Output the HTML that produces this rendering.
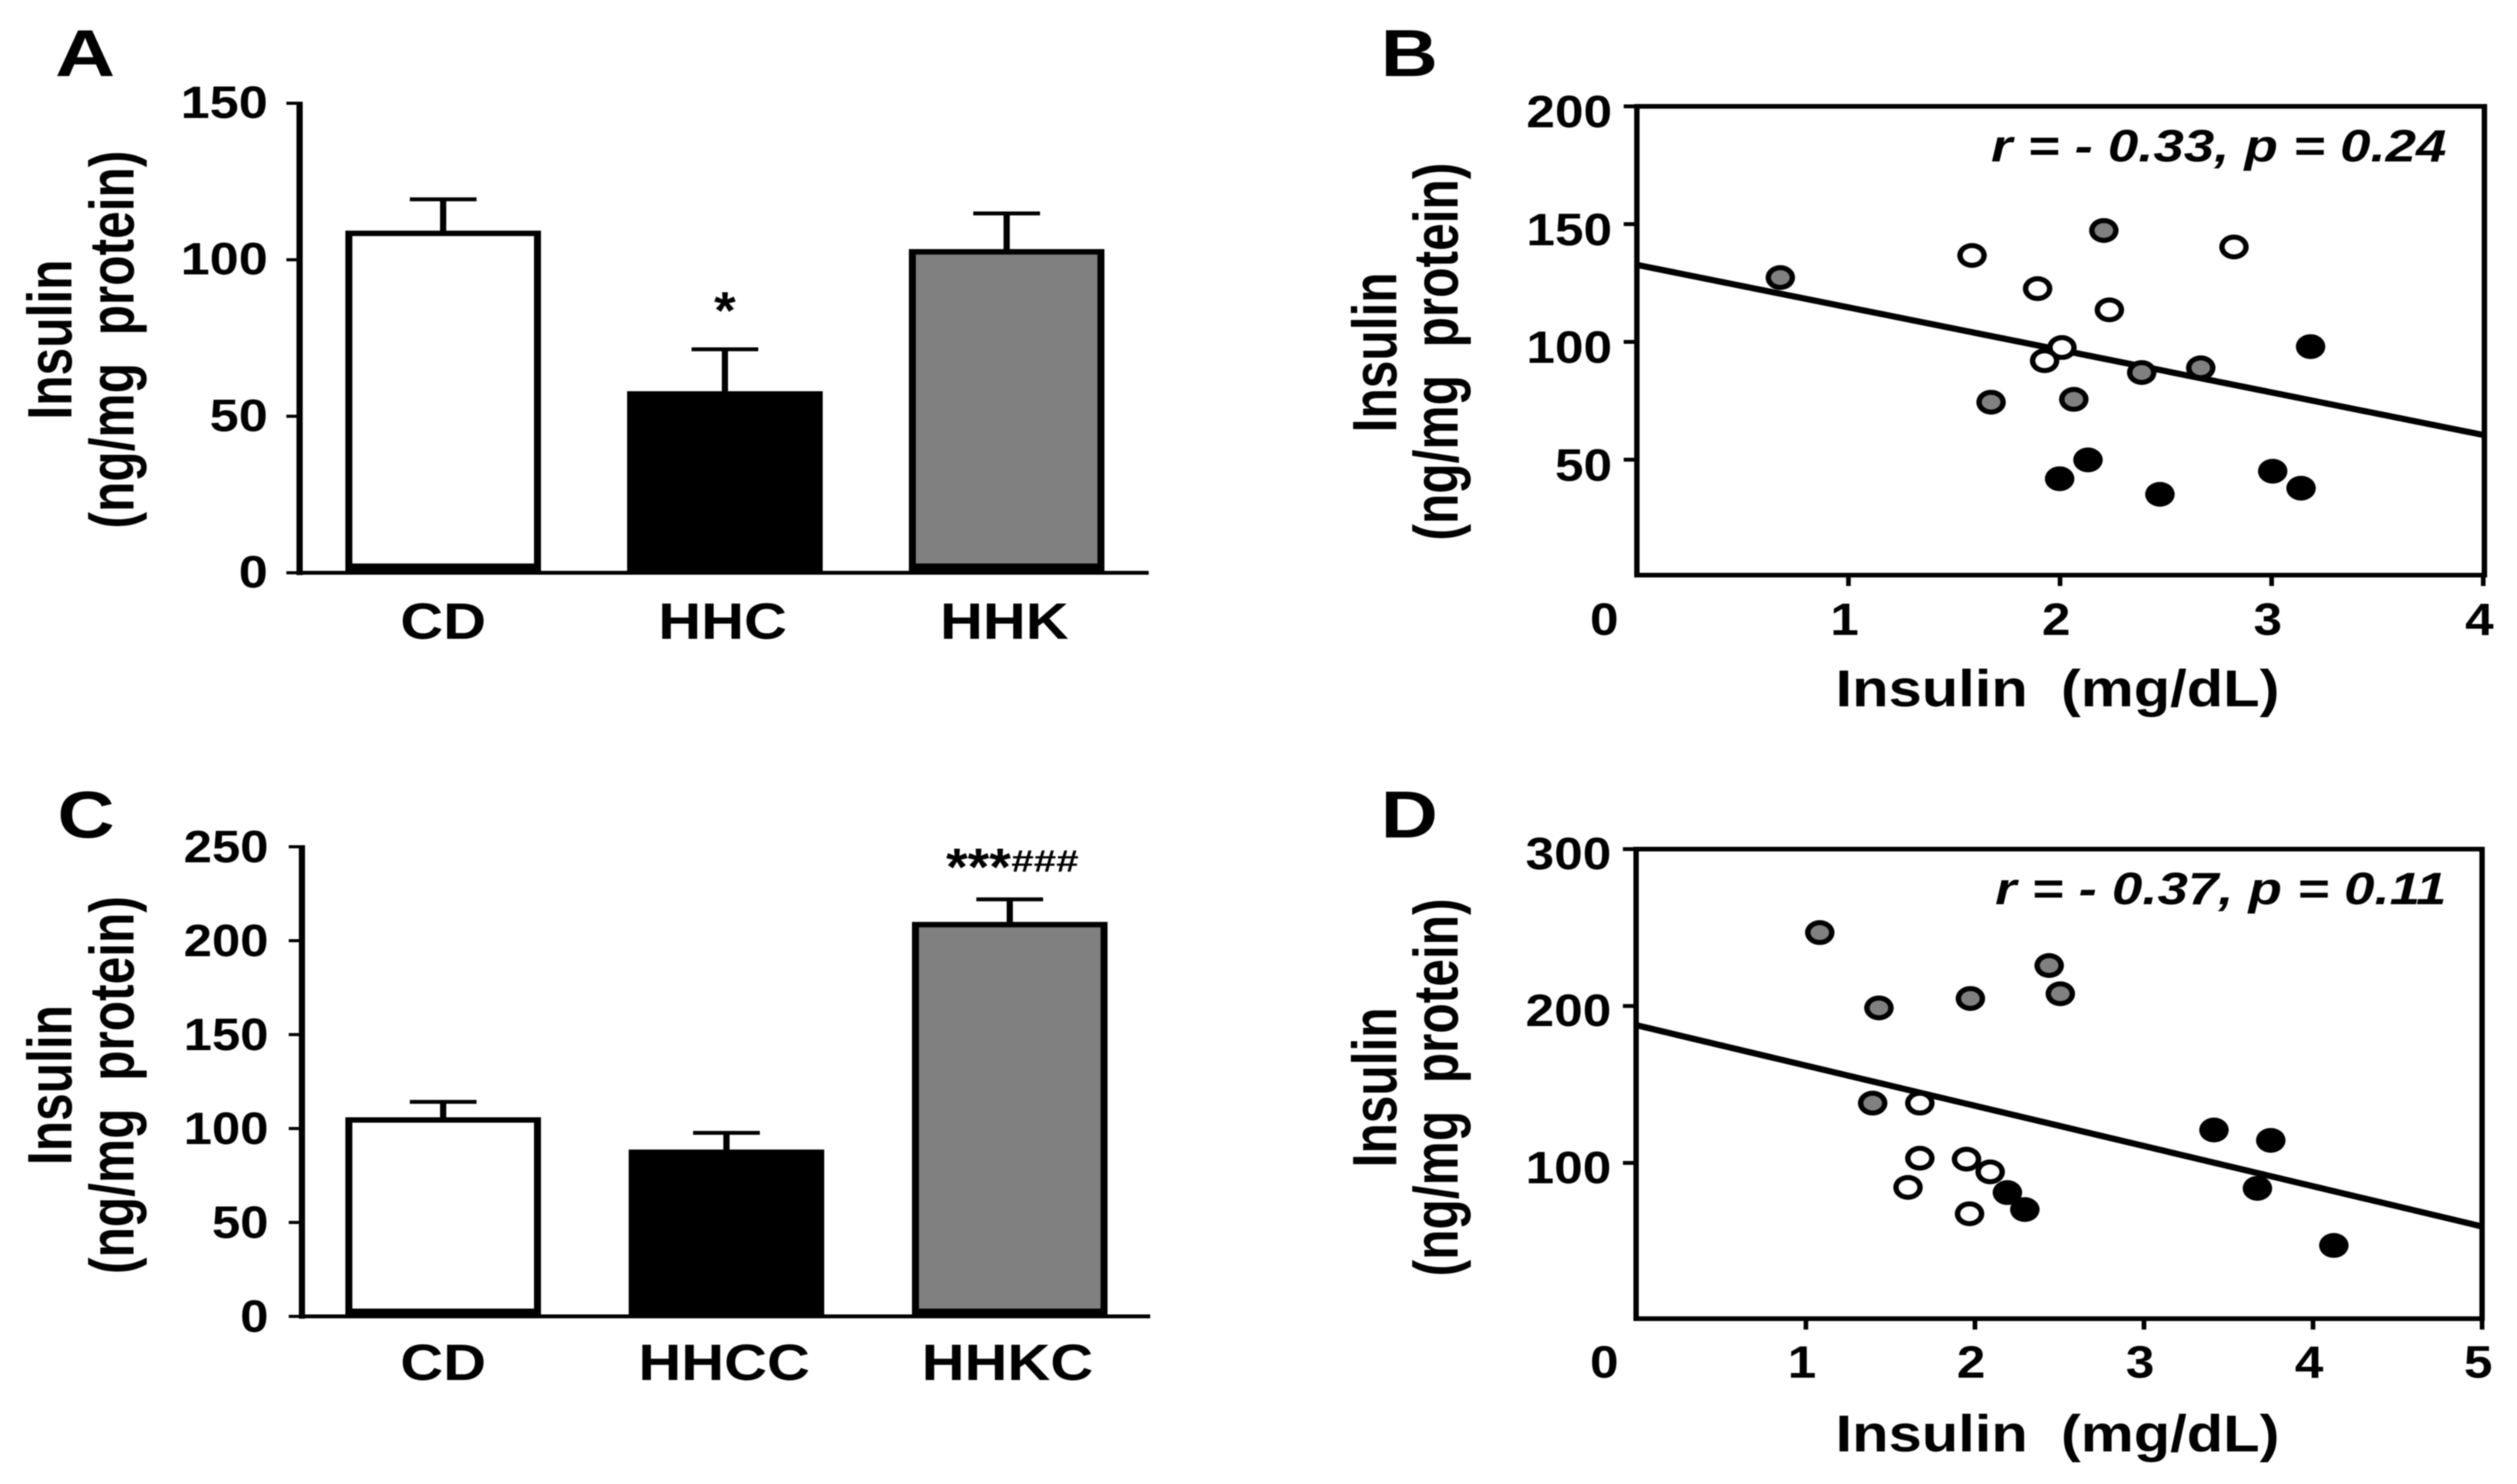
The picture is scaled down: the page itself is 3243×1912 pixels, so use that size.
<!DOCTYPE html>
<html>
<head>
<meta charset="utf-8">
<title>Insulin charts</title>
<style>
html,body{margin:0;padding:0;background:#fff;}
svg{display:block;filter:blur(0.7px);}
text{font-family:"Liberation Sans",Arial,sans-serif;font-weight:bold;fill:#000;}
</style>
</head>
<body>
<svg id="figure" width="3243" height="1912" viewBox="0 0 3243 1912">
  <rect width="3243" height="1912" fill="#fff"/>

  <g id="panel-a">
    <text font-size="85" transform="translate(71,98) scale(1.26,1)">A</text>
    <text font-size="81" text-anchor="middle" transform="translate(92,437.5) rotate(-90) scale(0.79,1)">Insulin</text>
    <text font-size="81" text-anchor="middle" transform="translate(172,437.5) rotate(-90) scale(0.79,1)">(ng/mg&#160;&#160;protein)</text>
  </g>

  <g id="panel-b">
    <text font-size="85" transform="translate(1779,98) scale(1.2,1)">B</text>
    <text font-size="81" text-anchor="middle" transform="translate(1799,454) rotate(-90) scale(0.79,1)">Insulin</text>
    <text font-size="81" text-anchor="middle" transform="translate(1878,453) rotate(-90) scale(0.79,1)">(ng/mg&#160;&#160;protein)</text>
    <text font-size="67" text-anchor="middle" transform="translate(2651,910) scale(1.147,1)">Insulin&#160;&#160;(mg/dL)</text>
    <text font-size="58" font-style="italic" text-anchor="end" transform="translate(3152,208) scale(1.213,1)">r = - 0.33, p = 0.24</text>
  </g>

  <g id="panel-c">
    <text font-size="85" transform="translate(74,1079) scale(1.2,1)">C</text>
    <text font-size="81" text-anchor="middle" transform="translate(92,1398) rotate(-90) scale(0.79,1)">Insulin</text>
    <text font-size="81" text-anchor="middle" transform="translate(172,1398) rotate(-90) scale(0.79,1)">(ng/mg&#160;&#160;protein)</text>
  </g>

  <g id="panel-d">
    <text font-size="85" transform="translate(1779,1079) scale(1.2,1)">D</text>
    <text font-size="81" text-anchor="middle" transform="translate(1799,1401) rotate(-90) scale(0.79,1)">Insulin</text>
    <text font-size="81" text-anchor="middle" transform="translate(1878,1401) rotate(-90) scale(0.79,1)">(ng/mg&#160;&#160;protein)</text>
    <text font-size="67" text-anchor="middle" transform="translate(2651,1870) scale(1.147,1)">Insulin&#160;&#160;(mg/dL)</text>
    <text font-size="58" font-style="italic" text-anchor="end" transform="translate(3152,1165) scale(1.213,1)">r = - 0.37, p = 0.11</text>
  </g>
</svg>

<script>
// Panel A data
const aCategories = ['CD', 'HHC', 'HHK'];
const aValues = [109.3, 58, 103.4];
const aErrors = [10, 13.4, 11.4];
const aTicks = [0, 50, 100, 150];
const aFills = ['#ffffff', '#000000', '#808080'];
const aMarks = ['', '*', ''];

// Panel C data
const cCategories = ['CD', 'HHCC', 'HHKC'];
const cValues = [106, 88.8, 210];
const cErrors = [8.2, 8.9, 12];
const cTicks = [0, 50, 100, 150, 200, 250];
const cFills = ['#ffffff', '#000000', '#808080'];

// Panel B data
const bTicksX = [0, 1, 2, 3, 4];
const bTicksY = [50, 100, 150, 200];
const bGrayX = [0.678, 2.207, 1.674, 2.065, 2.386, 2.665];
const bGrayY = [127.3, 147.3, 74.4, 75.6, 87.0, 89.0];
const bWhiteX = [1.584, 2.822, 1.894, 2.233, 2.009, 1.927];
const bWhiteY = [136.7, 140.3, 122.6, 113.6, 97.6, 92.0];
const bBlackX = [3.184, 2.132, 1.998, 2.472, 3.005, 3.139];
const bBlackY = [98, 49.9, 41.9, 35.3, 45.1, 37.9];
const bLineX = [0, 4];
const bLineY = [132.7, 60.5];

// Panel D data
const dTicksX = [0, 1, 2, 3, 4, 5];
const dTicksY = [100, 200, 300];
const dGrayX = [1.082, 1.432, 1.973, 2.439, 2.505, 1.395];
const dGrayY = [246.8, 198.8, 204.8, 225.8, 207.8, 138.1];
const dWhiteX = [1.674, 1.674, 1.95, 2.09, 1.604, 1.968];
const dWhiteY = [138.1, 103, 102.4, 94.3, 84.4, 67.6];
const dBlackX = [2.192, 2.295, 3.414, 3.75, 3.671, 4.123];
const dBlackY = [81.1, 70.3, 121, 114.4, 83.8, 47.4];
const dLineX = [0, 5];
const dLineY = [187.7, 59.5];

const NS = document.getElementById('figure').namespaceURI;

function make(parent, tag, attrs) {
  const el = document.createElementNS(NS, tag);
  for (const k in attrs) el.setAttribute(k, attrs[k]);
  parent.appendChild(el);
  return el;
}

function linear(d0, d1, r0, r1) {
  return function (v) { return r0 + (v - d0) * (r1 - r0) / (d1 - d0); };
}

function label(parent, str, x, y, size, sx, anchor) {
  const t = make(parent, 'text', {
    'font-size': size,
    'text-anchor': anchor,
    transform: 'translate(' + x + ',' + y + ') scale(' + sx + ',1)'
  });
  t.textContent = str;
  return t;
}

function drawBars(panel, cfg) {
  const root = document.getElementById(panel);
  const y = cfg.y;
  const axisY = make(root, 'rect', { x: cfg.axisX - 4, y: y(cfg.ticks[cfg.ticks.length - 1]) - 2, width: 8, height: y(0) - y(cfg.ticks[cfg.ticks.length - 1]) + 5, fill: '#000' });
  
  
  const axisX = make(root, 'rect', { x: cfg.axisX - 4, y: y(0) - 2.5, width: cfg.axisEnd - cfg.axisX + 4, height: 5, fill: '#000' });
  
  

  cfg.ticks.forEach(function (t) {
    const tick = make(root, 'rect', { x: cfg.axisX - 17, y: y(t) - 2, width: 14, height: 4, fill: '#000' });
    
    
    const tl = label(root, String(t), cfg.tickRight, y(t) + cfg.tickDy, 58, cfg.tickSx, 'end');
    
    
  });

  cfg.categories.forEach(function (c, i) {
    const cx = cfg.first + i * cfg.step;
    const top = y(cfg.values[i]);
    const errTop = y(cfg.values[i] + cfg.errors[i]);

    const stem = make(root, 'rect', { x: cx - 4, y: errTop, width: 8, height: top - errTop + 2, fill: '#000' });
    
    
    const cap = make(root, 'rect', { x: cx - 43, y: errTop - 2.5, width: 86, height: 5, fill: '#000' });
    
    

    const bar = make(root, 'rect', { x: cx - 126, y: top, width: 252, height: y(0) - top, fill: '#000' });
    
    
    const fill = make(root, 'rect', { x: cx - 117, y: top + 7, width: 234, height: y(0) - top - 7 - cfg.barBase, fill: cfg.fills[i] });
    
    

    const cl = label(root, c, i === 0 ? cx : cx - 3, cfg.catY, 66, 1.16, 'middle');
    
    
  });
}

function drawScatter(panel, cfg) {
  const root = document.getElementById(panel);
  const x = cfg.x, y = cfg.y;
  const lf = cfg.frame;

  const sides = [
    [lf.left - 3.5, lf.top - 3, lf.right - lf.left + 7, 6],
    [lf.left - 3.5, lf.bottom - 3, lf.right - lf.left + 7, 6],
    [lf.left - 3.5, lf.top - 3, 7, lf.bottom - lf.top + 6],
    [lf.right - 3.5, lf.top - 3, 7, lf.bottom - lf.top + 6]
  ];
  sides.forEach(function (s) {
    const side = make(root, 'rect', { x: s[0], y: s[1], width: s[2], height: s[3], fill: '#000' });
    
    
  });

  cfg.ticksY.forEach(function (t) {
    const tick = make(root, 'rect', { x: lf.left - 17, y: y(t) - 2.5, width: 14, height: 5, fill: '#000' });
    
    
    const tl = label(root, String(t), lf.left - 32, y(t) + cfg.tickDy, 58, 1.14, 'end');
    
    
  });

  cfg.ticksX.forEach(function (t) {
    if (t !== 0) {
      const tick = make(root, 'rect', { x: x(t) - 3, y: lf.bottom, width: 6, height: 14, fill: '#000' });
      
      
    }
    const shift = t === 0 ? -42 : -5;
    const tl = label(root, String(t), x(t) + shift, cfg.labelY, 58, 1.14, 'middle');
    
    
  });

  const line = make(root, 'line', { x1: x(cfg.lineX[0]), y1: y(cfg.lineY[0]), x2: x(cfg.lineX[1]), y2: y(cfg.lineY[1]), stroke: '#000', 'stroke-width': 8 });
  
  

  function series(xs, ys, color, name) {
    xs.forEach(function (v, i) {
      const outer = make(root, 'ellipse', { cx: x(v), cy: y(ys[i]), rx: 19, ry: 16, fill: '#000' });
      
      
      const inner = make(root, 'ellipse', { cx: x(v), cy: y(ys[i]), rx: 12, ry: 9.5, fill: color });
      
      
    });
  }
  series(cfg.grayX, cfg.grayY, '#808080', 'gray-group');
  series(cfg.whiteX, cfg.whiteY, '#ffffff', 'white-group');
  series(cfg.blackX, cfg.blackY, '#000000', 'black-group');
}

drawBars('panel-a', {
  categories: aCategories, values: aValues, errors: aErrors, ticks: aTicks, fills: aFills,
  y: linear(0, 150, 738, 133), axisX: 386, axisEnd: 1480, first: 571, step: 363,
  tickDy: 19, catY: 823, barBase: 12, tickRight: 345, tickSx: 1.16
});

drawBars('panel-c', {
  categories: cCategories, values: cValues, errors: cErrors, ticks: cTicks, fills: cFills,
  y: linear(0, 250, 1696, 1091), axisX: 389, axisEnd: 1482, first: 571, step: 365,
  tickDy: 20, catY: 1778, barBase: 10, tickRight: 346, tickSx: 1.13
});

drawScatter('panel-b', {
  ticksX: bTicksX, ticksY: bTicksY, grayX: bGrayX, grayY: bGrayY, whiteX: bWhiteX, whiteY: bWhiteY,
  blackX: bBlackX, blackY: bBlackY, lineX: bLineX, lineY: bLineY,
  x: linear(0, 4, 2109, 3199.5), y: linear(0, 200, 744, 137),
  frame: { left: 2109, right: 3201, top: 137, bottom: 741 }, tickDy: 27, labelY: 818
});

drawScatter('panel-d', {
  ticksX: dTicksX, ticksY: dTicksY, grayX: dGrayX, grayY: dGrayY, whiteX: dWhiteX, whiteY: dWhiteY,
  blackX: dBlackX, blackY: dBlackY, lineX: dLineX, lineY: dLineY,
  x: linear(0, 5, 2109, 3198), y: linear(0, 300, 1700.5, 1094),
  frame: { left: 2108, right: 3198, top: 1094, bottom: 1699 }, tickDy: 26, labelY: 1775
});

// Significance markers
const rootA = document.getElementById('panel-a');
const sigA = label(rootA, aMarks[1], 571 + 363, 423, 68, 1.05, 'middle');



const rootC = document.getElementById('panel-c');
const sigStars = label(rootC, '***', 1219, 1140, 68, 1.05, 'start');


const sigHash = label(rootC, '###', 1303, 1123, 40, 1.3, 'start');


</script>
</body>
</html>
